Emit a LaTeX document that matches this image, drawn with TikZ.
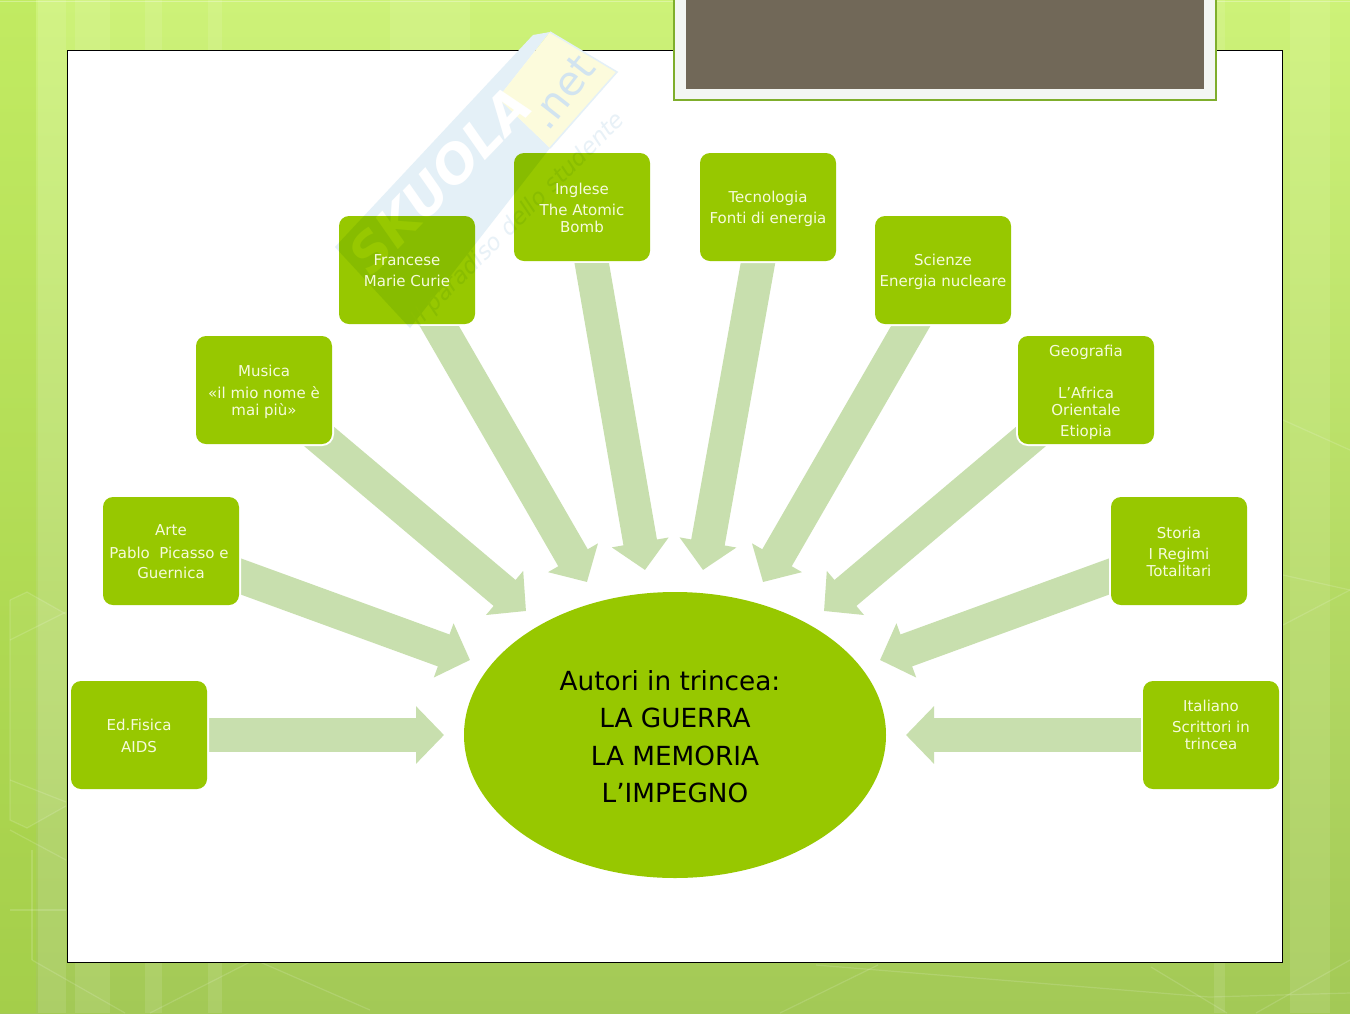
\documentclass[tikz,border=0pt]{standalone}
\usepackage{fontspec}
\setmainfont{DejaVu Sans}
\usetikzlibrary{arrows.meta,shapes.geometric}
\definecolor{boxgreen}{HTML}{97C800}
\definecolor{flowgreen}{HTML}{C8DFAE}
\definecolor{paletxt}{HTML}{F6FBDC}
\definecolor{wmblue}{HTML}{E4F0F7}
\definecolor{wmtxt}{HTML}{D2E4F0}
\definecolor{wmfaint}{HTML}{E8F1F7}
\definecolor{wmyellow}{HTML}{FCFBDC}
\definecolor{brownbox}{HTML}{716858}
\definecolor{framegreen}{HTML}{7FAE2C}
\definecolor{bgtop}{HTML}{CDF278}
\definecolor{bgbot}{HTML}{A3C956}
\definecolor{bgedge}{HTML}{A8DC30}
\pgfdeclarelayer{base}\pgfdeclarelayer{flows}\pgfsetlayers{base,flows,main}
\tikzset{
  boxm/.style={rectangle,rounded corners=10pt,fill=boxgreen,inner sep=0pt,
    minimum width=136pt,minimum height=108pt},
  boxn/.style={boxm,preaction={draw=white,line width=4pt},
    text=paletxt,font=\fontsize{15}{17}\selectfont},
  boxt/.style={inner sep=0pt,text=paletxt,font=\fontsize{15}{17}\selectfont},
  flow/.style={draw=flowgreen,line width=34pt,-{Triangle[length=28pt,width=56pt,fill=flowgreen]}},
  deco/.style={draw=white,draw opacity=.14,line width=1.2pt},
  stripe/.style={fill=white,fill opacity=.10},
}
\newcommand\lns[2][-6.25pt]{\raisebox{#1}[0pt][0pt]{\begin{tabular}{@{}c@{}}#2\end{tabular}}}
\begin{document}
\begin{tikzpicture}[x=1pt,y=-1pt]
\useasboundingbox (0,0) rectangle (1350,1013);
\begin{pgfonlayer}{base}
  \begin{scope}
    \clip (0,0) rectangle (1350,1013);
    \shade[top color=bgtop,bottom color=bgbot] (0,0) rectangle (1350,1013);
    \fill[bgedge,fill opacity=.3] (0,0) rectangle (36,1013);
    \fill[stripe] (75,0) rectangle (110,1013);
    \fill[stripe] (145,0) rectangle (162,1013);
    \fill[stripe] (208,0) rectangle (222,1013);
    \fill[stripe] (38,0) rectangle (66,1013);
    \fill[stripe] (1214,0) rectangle (1225,1013);
    \fill[stripe] (1290,0) rectangle (1330,1013);
    \fill[stripe] (390,0) rectangle (470,50);
    \fill[white,fill opacity=.06] (10,600)--(27,592)--(66,614)--(66,806)--(27,828)--(10,820)--cycle;
    \draw[deco] (10,600)--(27,592)--(66,614);
    \draw[deco] (10,600)--(10,820)--(27,828)--(66,806);
    \draw[deco] (10,780)--(66,802);
    \draw[deco] (10,640)--(66,612);
    \draw[deco] (10,830)--(66,860);
    \draw[deco] (10,910)--(66,910);
    \draw[deco] (32,960)--(32,850);
    \draw[deco] (32,960)--(125,1013);
    \draw[deco] (250,962)--(150,1013);
    \draw[deco] (260,962)--(370,1010);
    \draw[deco] (816,965)--(1209,997)--(1350,993);
    \draw[deco] (780,1013)--(878,965);
    \draw[deco] (1151,967)--(1227,1013);
    \draw[deco] (1256,1013)--(1350,960);
    \draw[deco] (1283,420)--(1350,450);
    \draw[deco] (1283,575)--(1350,590);
    \draw[deco] (1283,625)--(1350,590);
    \draw[deco,draw opacity=.3] (0,1.5)--(1350,1.5);
  \end{scope}
  \fill[white] (67,50) rectangle (1282,962);
  \draw[black,line width=.9pt] (67,50) rectangle (1282,962);
  % watermark
  \fill[wmblue] (335,247)--(533,35)--(550,32)--(498,98)--(550,148)--(410,328)--cycle;
  \fill[wmyellow] (498,98)--(550,32)--(617,72)--(550,148)--cycle;
  \draw[wmblue,line width=1.5pt] (550,32)--(617,72)--(550,148);
  \node[rotate=46,inner sep=0pt,text=white,font=\fontsize{52}{52}\selectfont\bfseries\itshape] (wma) at (440,180) {SKUOLA};
  \node[rotate=52,inner sep=0pt,text=wmtxt,font=\fontsize{41}{41}\selectfont] (wmb) at (562,92) {.net};
  \node[rotate=45,inner sep=0pt,text=wmfaint,font=\fontsize{23}{23}\selectfont\itshape] (wmc) at (518,220) {Il paradiso dello studente};
  \filldraw[fill={rgb,255:red,243;green,246;blue,243},draw=framegreen,line width=2.6pt] (674,-5) rectangle (1216,100);
  \fill[brownbox] (686,-5) rectangle (1204,89);
\end{pgfonlayer}

\node[boxn] (edf) at (139,735) {\lns{Ed.Fisica\\[5pt]AIDS}};
\node[boxn] (art) at (171,551) {\lns{Arte\\[6pt]Pablo\ \ Picasso e\hspace*{4pt}\\[3pt]Guernica}};
\node[boxn] (mus) at (264,390) {\lns{Musica\\[5pt]«il mio nome è\\mai più»}};
\begin{scope}[blend mode=multiply]
  \node[boxm] (fra) at (407,270) {};
  \node[boxm] (ing) at (582,207) {};
\end{scope}
\node[boxn] (tec) at (768,207) {\lns{Tecnologia\\[4pt]Fonti di energia}};
\node[boxn] (sci) at (943,270) {\lns{Scienze\\[4pt]Energia nucleare}};
\node[boxn] (geo) at (1086,390) {\lns{Geografia\\[4pt]\\[4pt]L’Africa\\Orientale\\[4pt]Etiopia}};
\node[boxn] (sto) at (1179,551) {\lns{Storia\\[4pt]I Regimi\\Totalitari}};
\node[boxn] (ita) at (1211,735) {\lns[4.25pt]{Italiano\\[4pt]Scrittori in\\trincea}};

\node[boxt] (frat) at (fra.center) {\lns{Francese\\[4pt]Marie Curie}};
\node[boxt] (ingt) at (ing.center) {\lns{Inglese\\[4pt]The Atomic\\Bomb}};

\node[ellipse,fill=boxgreen,inner sep=0pt,minimum width=422pt,minimum height=286pt,
  font=\fontsize{26.3}{37.5}\selectfont,text=black] (cen) at (675,735)
  {\lns[-10.1pt]{Autori in trincea:\hspace*{10pt}\\LA GUERRA\\LA MEMORIA\\L’IMPEGNO}};

\coordinate (tedf) at (444,735);
\coordinate (tart) at (470,660);
\coordinate (tmus) at (526,611);
\coordinate (tfra) at (587,582);
\coordinate (ting) at (645,570);
\coordinate (ttec) at (703,570);
\coordinate (tsci) at (763,582);
\coordinate (tgeo) at (824,611);
\coordinate (tsto) at (880,660);
\coordinate (tita) at (906,735);
\begin{pgfonlayer}{flows}
  \draw[flow] (edf.center) -- (tedf);
  \draw[flow] (art.center) -- (tart);
  \draw[flow] (mus.center) -- (tmus);
  \begin{scope}
    \clip (0,326.5) rectangle (1350,1013);
    \draw[flow] (fra.center) -- (tfra);
  \end{scope}
  \begin{scope}
    \clip (0,263.5) rectangle (1350,1013);
    \draw[flow] (ing.center) -- (ting);
  \end{scope}
  \draw[flow] (tec.center) -- (ttec);
  \draw[flow] (sci.center) -- (tsci);
  \draw[flow] (geo.center) -- (tgeo);
  \draw[flow] (sto.center) -- (tsto);
  \draw[flow] (ita.center) -- (tita);
\end{pgfonlayer}
\end{tikzpicture}
\end{document}
